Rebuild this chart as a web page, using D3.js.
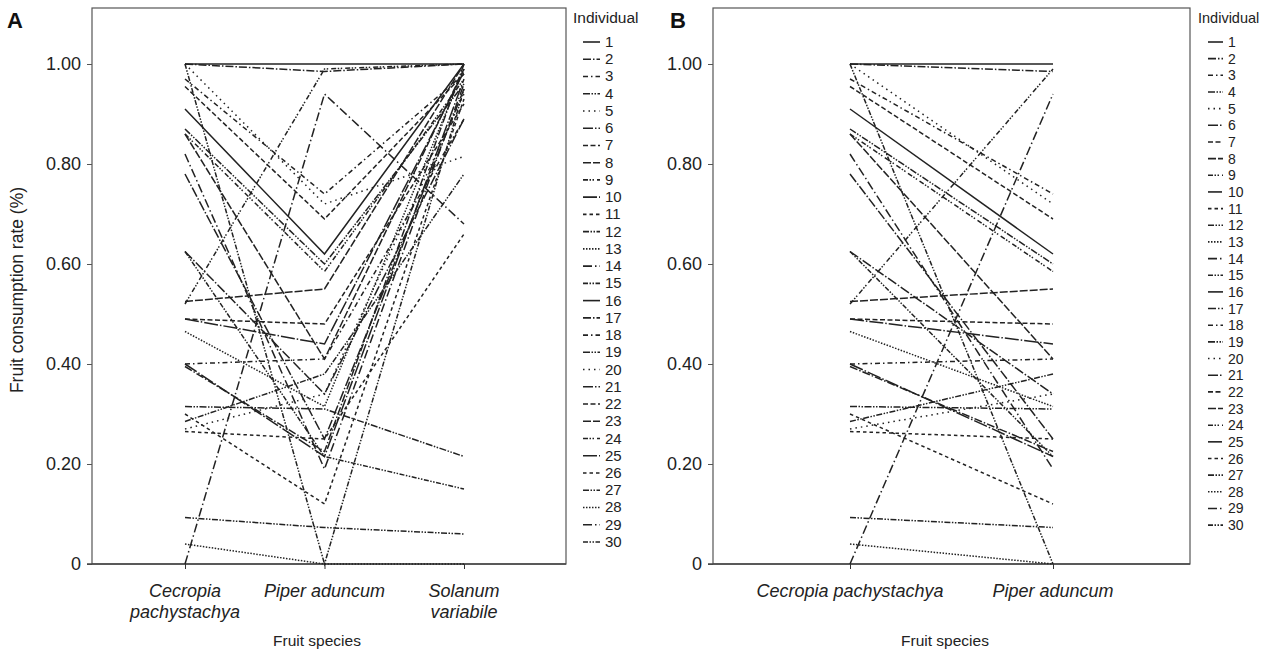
<!DOCTYPE html>
<html>
<head>
<meta charset="utf-8">
<script src="https://cdn.jsdelivr.net/npm/d3@7/dist/d3.min.js"></script>
<style>
  body { margin: 0; background: #fff; }
  svg { display: block; font-family: Arial, "Liberation Sans", sans-serif; }
</style>
</head>
<body>
<div id="chart"></div>
<script>
'use strict';

// categories
const speciesA = ['Cecropia pachystachya', 'Piper aduncum', 'Solanum variabile'];
const speciesB = ['Cecropia pachystachya', 'Piper aduncum'];

const individuals = d3.range(1, 31);

// consumption rate per individual
const cecropia = [0.91, 1.00, 0.97, 0.87, 1.00, 0.625, 0.49, 0.86, 0.52, 0.40,
                  0.265, 0.285, 0.04, 0.00, 1.00, 1.00, 0.395, 0.40, 0.315, 0.27,
                  0.78, 0.955, 0.525, 0.86, 0.49, 0.30, 0.093, 0.465, 0.82, 0.625];
const piper    = [0.62, 0.985, 0.74, 0.60, 0.72, 0.34, 0.48, 0.41, 0.99, 0.215,
                  0.25, 0.38, 0.00, 0.94, 0.00, 1.00, 0.225, 0.41, 0.31, 0.34,
                  0.25, 0.69, 0.55, 0.585, 0.44, 0.12, 0.073, 0.315, 0.19, 0.215];
const solanum  = [1.00, 1.00, 0.98, 0.96, 0.815, 0.89, 0.92, 0.99, 1.00, 0.97,
                  0.66, 0.78, 0.00, 0.68, 0.95, 1.00, 1.00, 0.89, 0.215, 0.94,
                  0.95, 0.98, 1.00, 0.97, 0.985, 0.93, 0.06, 0.99, 0.96, 0.15];

const yTicks = [0, 0.2, 0.4, 0.6, 0.8, 1.0];

// 15 line styles, reused for individuals 16-30
const dashes = ['none', '8,2,1.5,2', '5,3,1.5,3', '7,1.5,1.5,1.5,1.5,1.5', '1.5,4',
                '10,2,1.5,2', '5,2.5', '8,2', '5,1.5,1.5,1.5,1.5,3', '14,2,1.5,2',
                '3.5,3', '6,1.5,1.5,1.5,1.5,1.5', '1.5,1.5', '9,3,1.5,3', '5,1.5,1.5,1.5,1.5,1.5'];

const W = 1278, H = 659;
const ink = '#222';

const svg = d3.select('#chart').append('svg')
    .attr('width', W).attr('height', H);

function panel( opts ) {
    const g = svg.append('g');
    const top = 8, bottom = 564;

    const y = d3.scaleLinear().domain([0, 1.112]).range([bottom, top]);
    const x = d3.scalePoint().domain(opts.species).range(opts.range);

    // frame
    g.append('rect')
        .attr('x', opts.left).attr('y', top)
        .attr('width', opts.right - opts.left).attr('height', bottom - top)
        .attr('fill', 'none').attr('stroke', '#555').attr('stroke-width', 1.2);

    // y axis
    const yAxis = g.append('g')
        .attr('transform', 'translate(' + opts.left + ',0)')
        .call(d3.axisLeft(y).tickValues(yTicks).tickSize(5).tickPadding(6)
            .tickFormat(function( d ) { return d === 0 ? '0' : d3.format('.2f')(d); }));
    yAxis.select('.domain').remove();
    yAxis.selectAll('line').attr('stroke', '#555');
    yAxis.selectAll('text').attr('font-size', 18).attr('fill', '#222')
        .attr('font-family', 'Arial, "Liberation Sans", sans-serif');

    // x axis
    const xAxis = g.append('g')
        .attr('transform', 'translate(0,' + bottom + ')')
        .call(d3.axisBottom(x).tickSize(5).tickFormat(''));
    xAxis.select('.domain').attr('stroke', '#444').attr('stroke-width', 1.6)
        .attr('d', 'M' + (opts.left - 5) + ',0H' + opts.right);
    xAxis.selectAll('line').attr('stroke', '#333');

    // category labels, long names wrap onto two lines when asked
    opts.species.forEach(function( s ) {
        const lines = (opts.wrap && s.length > 14) ? s.split(' ') : [s];
        const t = g.append('text')
            .attr('x', x(s))
            .attr('y', 597)
            .attr('text-anchor', 'middle')
            .attr('font-size', 18).attr('font-style', 'italic').attr('fill', '#222');
        lines.forEach(function( l, j ) {
            t.append('tspan').attr('x', x(s)).attr('dy', j === 0 ? 0 : 21).text(l);
        });
    });

    g.append('text')
        .attr('x', opts.titleX).attr('y', 646)
        .attr('text-anchor', 'middle').attr('font-size', 15.5).attr('fill', '#222')
        .text('Fruit species');

    g.append('text')
        .attr('x', opts.letterX).attr('y', 28)
        .attr('font-size', 22).attr('font-weight', 'bold').attr('fill', '#111')
        .text(opts.letter);

    // individual profiles
    const line = d3.line()
        .x(function( d ) { return x(d.s); })
        .y(function( d ) { return y(d.v); });

    const rows = individuals.map(function( id, i ) {
        const vals = [cecropia[i], piper[i], solanum[i]];
        return { id: id, pts: opts.species.map(function( s, k ) { return { s: s, v: vals[k] }; }) };
    });

    g.append('g').selectAll('path')
        .data(rows)
        .enter().append('path')
            .attr('d', function( d ) { return line(d.pts); })
            .attr('fill', 'none')
            .attr('stroke', ink)
            .attr('stroke-width', 1.5)
            .attr('stroke-dasharray', function( d ) { return dashes[(d.id - 1) % 15]; });

    // legend
    const lg = g.append('g').attr('transform', 'translate(' + opts.legendX + ',0)');
    lg.append('text').attr('x', -4).attr('y', 23).attr('font-size', opts.legendFont + 0.5)
        .attr('fill', '#222').text('Individual');

    const item = lg.selectAll('.item')
        .data(individuals)
        .enter().append('g')
            .attr('class', 'item')
            .attr('transform', function( d, i ) { return 'translate(0,' + (opts.legendY0 + i * opts.legendStep) + ')'; });
    item.append('line')
        .attr('x1', opts.legendLine[0]).attr('x2', opts.legendLine[1])
        .attr('y1', 0).attr('y2', 0)
        .attr('stroke', ink).attr('stroke-width', 1.6)
        .attr('stroke-dasharray', function( d ) { return dashes[(d - 1) % 15]; });
    item.append('text')
        .attr('x', opts.legendLine[1] + 5).attr('y', 5)
        .attr('font-size', opts.legendFont).attr('fill', '#222')
        .text(function( d ) { return d; });

    return g;
}

panel({
    species: speciesA, left: 92, right: 566, range: [185, 464], wrap: true,
    titleX: 317, letter: 'A', letterX: 7,
    legendX: 577, legendY0: 42, legendStep: 17.24, legendLine: [6, 23], legendFont: 15
});

panel({
    species: speciesB, left: 713, right: 1190, range: [850, 1053], wrap: false,
    titleX: 945, letter: 'B', letterX: 670,
    legendX: 1202, legendY0: 42, legendStep: 16.66, legendLine: [6, 21], legendFont: 14
});

// y axis title, only on the left panel
svg.append('text')
    .attr('transform', 'translate(23,290) rotate(-90)')
    .attr('text-anchor', 'middle').attr('font-size', 17.5).attr('fill', '#222')
    .text('Fruit consumption rate (%)');
</script>
</body>
</html>
